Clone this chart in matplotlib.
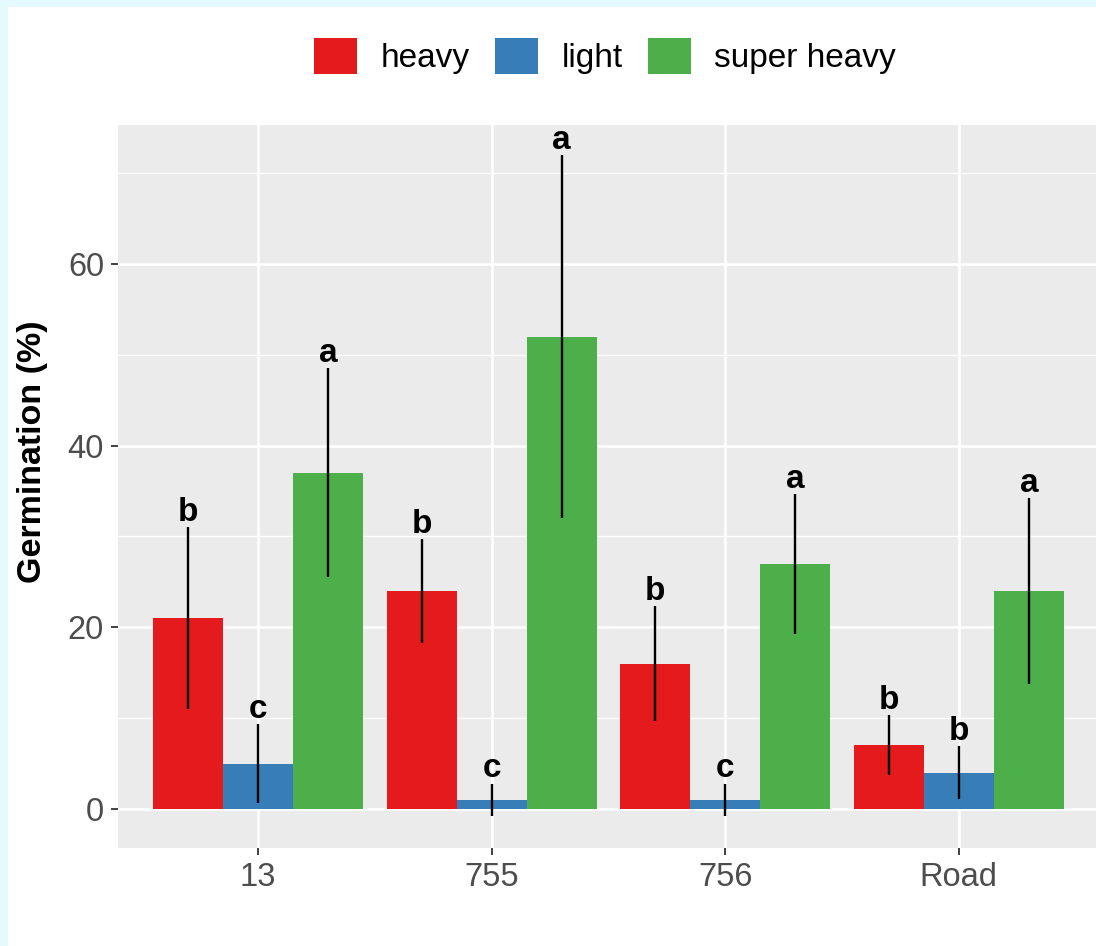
import numpy as np
import matplotlib
matplotlib.use("Agg")
import matplotlib.pyplot as plt
from matplotlib.patches import Patch, Rectangle
from matplotlib.ticker import MultipleLocator

plt.rcParams['font.family'] = ['Liberation Sans', 'DejaVu Sans']

sites = ["13", "755", "756", "Road"]
seed_types = ["heavy", "light", "super heavy"]
colors = ["#E41A1C", "#377EB8", "#4DAF4A"]

heavy_mean = [21, 24, 16, 7]
heavy_sd = [10, 5.7, 6.3, 3.3]
heavy_letters = ["b", "b", "b", "b"]

light_mean = [5, 1, 1, 4]
light_sd = [4.3, 1.8, 1.8, 2.9]
light_letters = ["c", "c", "c", "b"]

super_mean = [37, 52, 27, 24]
super_sd = [11.5, 20, 7.7, 10.2]
super_letters = ["a", "a", "a", "a"]

means = [heavy_mean, light_mean, super_mean]
sds = [heavy_sd, light_sd, super_sd]
letters = [heavy_letters, light_letters, super_letters]

W, H = 1096, 946
fig = plt.figure(figsize=(W / 100, H / 100), dpi=100)
fig.patch.set_facecolor("white")

# light cyan frame on top and left
cyan = "#E4FAFE"
fig.patches.append(Rectangle((0, 1 - 6 / H), 1, 6 / H, transform=fig.transFigure,
                             color=cyan, zorder=-1))
fig.patches.append(Rectangle((0, 0), 7 / W, 1, transform=fig.transFigure,
                             color=cyan, zorder=-1))

ax = fig.add_axes([118 / W, 98 / H, 981 / W, 723 / H])
ax.set_facecolor("#EBEBEB")
for s in ax.spines.values():
    s.set_visible(False)

x = np.arange(1, len(sites) + 1)
bw = 0.3
offsets = [-bw, 0, bw]

for k in range(3):
    xs = x + offsets[k]
    ax.bar(xs, means[k], width=bw, color=colors[k], zorder=2, linewidth=0)
    ax.errorbar(xs, means[k], yerr=sds[k], fmt="none", ecolor="black",
                elinewidth=1.7, capsize=0, zorder=3)
    for xi, m, sd, lab in zip(xs, means[k], sds[k], letters[k]):
        ax.annotate(lab, (xi, m + sd), xytext=(0, 4.5), textcoords="offset points",
                    ha="center", va="baseline", fontsize=24, fontweight="bold",
                    color="black", zorder=4)

ax.set_xlim(0.4, 4.6)
ax.set_ylim(-4.3, 75.3)
ax.set_xticks(x)
ax.set_xticklabels(sites)
ax.yaxis.set_major_locator(MultipleLocator(20))
ax.yaxis.set_minor_locator(MultipleLocator(10))
ax.set_yticks([0, 20, 40, 60])

ax.grid(which="major", color="white", linewidth=1.9, zorder=0)
ax.grid(which="minor", axis="y", color="white", linewidth=0.95, zorder=0)
ax.set_axisbelow(True)

ax.tick_params(axis="both", which="major", length=5, width=1.3, color="#333333",
               labelsize=23.5, labelcolor="#4D4D4D", pad=5)
ax.tick_params(axis="y", which="minor", length=0)

ax.set_ylabel("Germination (%)", fontsize=24.5, fontweight="bold")
ax.yaxis.set_label_coords(-0.071, 0.548)

handles = [Patch(facecolor=c, edgecolor="none", label=l) for c, l in zip(colors, seed_types)]
fig.legend(handles=handles, loc="center", bbox_to_anchor=(605 / W, 1 - 56 / H), ncol=3,
           frameon=False, fontsize=24, handlelength=1.3, handleheight=1.28,
           handletextpad=0.7, columnspacing=0.75, borderpad=0)

fig.savefig("out.png", dpi=100)
